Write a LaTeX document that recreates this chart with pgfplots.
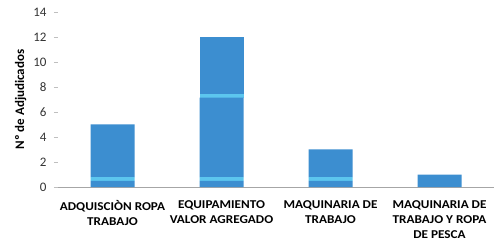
\documentclass[border=0pt]{standalone}
\usepackage{pgfplots}
\pgfplotsset{compat=1.18}
\usepackage{fontspec}
\setmainfont{Carlito}
\definecolor{barblue}{HTML}{3C8ED0}
\definecolor{bandblue}{HTML}{5CC6EE}
\begin{document}
\begin{tikzpicture}
\begin{axis}[
  scale only axis,
  width=436pt, height=175pt,
  ybar stacked, bar width=44pt,
  xmin=-0.5, xmax=3.5, ymin=0, ymax=14,
  ytick={0,2,...,14},
  xtick={0,1,2,3},
  xticklabels={{ADQUISCIÒN ROPA\\TRABAJO},{EQUIPAMIENTO\\VALOR AGREGADO},{MAQUINARIA DE\\TRABAJO},{MAQUINARIA DE\\TRABAJO Y ROPA\\DE PESCA}},
  xticklabel style={align=center, font=\fontsize{12}{15}\selectfont\bfseries, xscale=1.1, yshift=-6pt},
  yticklabel style={font=\fontsize{13}{14}\selectfont, text=black!80, xshift=-4pt},
  /pgf/number format/assume math mode=true,
  ylabel={Nº de Adjudicados},
  ylabel style={font=\fontsize{13}{15}\selectfont\bfseries},
  axis x line*=bottom, axis y line*=left,
  x axis line style={draw=black!35},
  y axis line style={draw=none},
  ytick style={draw=black!25},
  xtick style={draw=none},
  major tick length=4pt,
  tick align=outside,
  every axis plot/.append style={draw=none},
]
\addplot[fill=barblue] coordinates {(0,0.5) (1,0.5) (2,0.5) (3,1)};
\addplot[fill=bandblue] coordinates {(0,0.3) (1,0.3) (2,0.3) (3,0)};
\addplot[fill=barblue] coordinates {(0,4.2) (1,6.35) (2,2.2) (3,0)};
\addplot[fill=bandblue] coordinates {(0,0) (1,0.3) (2,0) (3,0)};
\addplot[fill=barblue] coordinates {(0,0) (1,4.55) (2,0) (3,0)};
\coordinate (ll) at (rel axis cs:0,0);
\coordinate (ur) at (rel axis cs:1,1);
\end{axis}
\pgfresetboundingbox
\path[use as bounding box] ([xshift=-58pt,yshift=-56pt]ll) rectangle ([yshift=12pt]ur);
\end{tikzpicture}
\end{document}
